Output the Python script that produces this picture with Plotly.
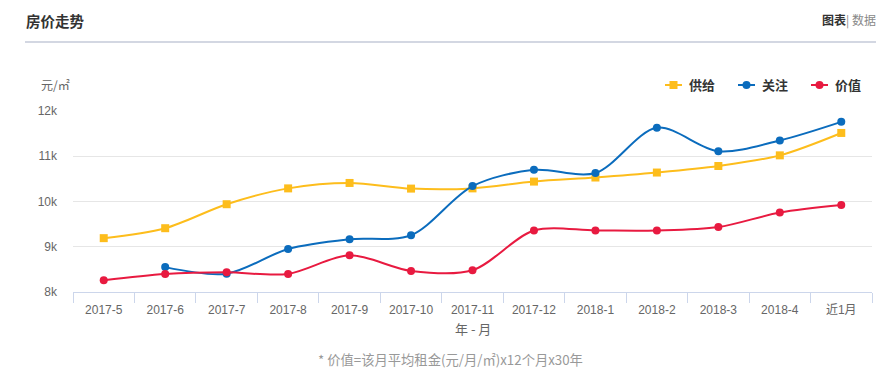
import plotly.graph_objects as go

months = ["2017-5", "2017-6", "2017-7", "2017-8", "2017-9", "2017-10", "2017-11",
          "2017-12", "2018-1", "2018-2", "2018-3", "2018-4", "近1月"]
supply = [9190, 9410, 9940, 10290, 10410, 10285, 10290, 10440, 10530, 10640, 10785, 11020, 11515]
attention = [None, 8550, 8405, 8950, 9165, 9255, 10340, 10700, 10630, 11630, 11110, 11350, 11760]
value = [8260, 8400, 8435, 8400, 8810, 8465, 8480, 9360, 9360, 9360, 9435, 9755, 9920]
ytick_vals = [8000, 9000, 10000, 11000, 12000]
ytick_text = ["8k", "9k", "10k", "11k", "12k"]

FONT = "Liberation Sans, Arial, Noto Sans CJK SC, sans-serif"
CJK = "Noto Sans CJK SC, Liberation Sans, sans-serif"

# the page places the figure 8px from its top-left corner
OFF = 8
W, H = 884 - OFF, 373 - OFF
L, R, T, B = 73 - OFF, W - (872 - OFF), 111 - OFF, H - (292 - OFF)

def px_x(px):
    return (px - OFF - L) / (W - L - R)

def px_y(py):
    return (H - B - (py - OFF)) / (H - B - T)

fig = go.Figure()
series = [
    ("供给", supply, "#fdbd1c", "square"),
    ("关注", attention, "#0b6cbd", "circle"),
    ("价值", value, "#e81a40", "circle"),
]
for name, ys, color, sym in series:
    fig.add_trace(go.Scatter(
        x=months, y=ys, name=name, mode="lines+markers",
        line=dict(color=color, width=2, shape="spline", smoothing=0.9),
        marker=dict(color=color, size=8, symbol=sym),
        cliponaxis=False, connectgaps=False, showlegend=False,
    ))

fig.update_layout(
    width=W, height=H,
    margin=dict(l=L, r=R, t=T, b=B),
    paper_bgcolor="white", plot_bgcolor="white",
    font=dict(family=FONT, size=12, color="#666666"),
    showlegend=False,
    xaxis=dict(type="category", range=[-0.5, 12.5], showgrid=False,
               showline=True, linecolor="#ccd6eb", linewidth=1,
               ticks="outside", tickson="boundaries", ticklen=10, tickcolor="#ccd6eb",
               ticklabelstandoff=7,
               tickfont=dict(family=FONT, size=12, color="#666666"), fixedrange=True),
    yaxis=dict(range=[8000, 12000], tickvals=ytick_vals, ticktext=ytick_text,
               showgrid=True, gridcolor="#e6e6e6", gridwidth=1, zeroline=False,
               showline=False, ticks="", ticklabelstandoff=15,
               tickfont=dict(family=FONT, size=12, color="#666666")),
)

# header
fig.add_annotation(text="<b>房价走势</b>", xref="paper", yref="paper", x=px_x(24), y=px_y(20),
                   xanchor="left", yanchor="middle", showarrow=False,
                   font=dict(family=CJK, size=14.5, color="#333333"))
fig.add_annotation(text="<b>图表</b><span style='color:#888888'>| 数据</span>",
                   xref="paper", yref="paper", x=px_x(878), y=px_y(20),
                   xanchor="right", yanchor="middle", showarrow=False,
                   font=dict(family=CJK, size=12, color="#333333"))
fig.add_shape(type="line", xref="paper", yref="paper", x0=px_x(25), x1=px_x(884),
              y0=px_y(42), y1=px_y(42), line=dict(color="#d3d7e2", width=2))
fig.add_annotation(text="元/㎡", xref="paper", yref="paper", x=px_x(39), y=px_y(84),
                   xanchor="left", yanchor="middle", showarrow=False,
                   font=dict(family=CJK, size=12, color="#666666"))
fig.add_annotation(text="年 - 月", xref="paper", yref="paper", x=0.5, y=px_y(328),
                   xanchor="center", yanchor="middle", showarrow=False,
                   font=dict(family=CJK, size=13, color="#666666"))
fig.add_annotation(text="* 价值=该月平均租金(元/月/㎡)x12个月x30年", xref="paper", yref="paper",
                   x=px_x(450), y=px_y(359), xanchor="center", yanchor="middle", showarrow=False,
                   font=dict(family=CJK, size=13.3, color="#999999"))

# legend
legend_items = [("供给", "#fdbd1c", "square", 665), ("关注", "#0b6cbd", "circle", 738),
                ("价值", "#e81a40", "circle", 811)]
for name, color, sym, x0 in legend_items:
    ly = 85
    fig.add_shape(type="line", xref="paper", yref="paper", x0=px_x(x0), x1=px_x(x0 + 17),
                  y0=px_y(ly), y1=px_y(ly), line=dict(color=color, width=2))
    cx = x0 + 8.5
    if sym == "square":
        fig.add_shape(type="rect", xref="paper", yref="paper", x0=px_x(cx - 4), x1=px_x(cx + 4),
                      y0=px_y(ly - 4), y1=px_y(ly + 4), fillcolor=color, line=dict(width=0))
    else:
        fig.add_shape(type="circle", xref="paper", yref="paper", x0=px_x(cx - 4), x1=px_x(cx + 4),
                      y0=px_y(ly - 4), y1=px_y(ly + 4), fillcolor=color, line=dict(width=0))
    fig.add_annotation(text="<b>" + name + "</b>", xref="paper", yref="paper",
                       x=px_x(x0 + 22), y=px_y(ly), xanchor="left", yanchor="middle",
                       showarrow=False, font=dict(family=CJK, size=13, color="#333333"))

fig.write_html("out.html")
